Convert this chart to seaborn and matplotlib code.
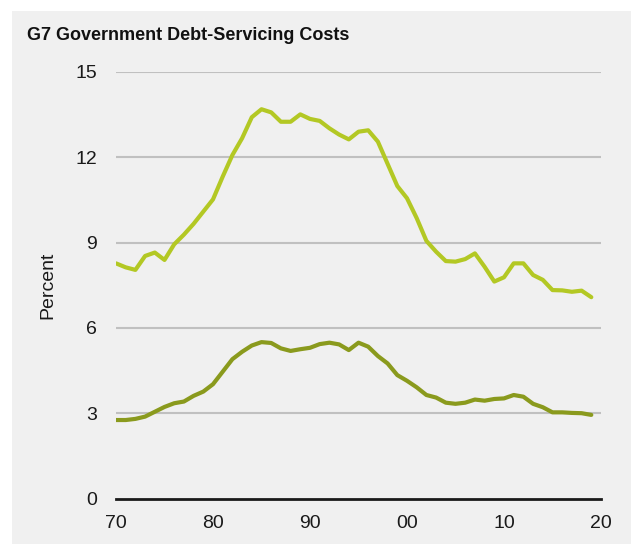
import numpy as np
import pandas as pd
import matplotlib
matplotlib.use("Agg")
import matplotlib.pyplot as plt
from matplotlib.patches import Rectangle
import seaborn as sns

# Annual data, 1970-2019
years = list(range(1970, 2020))

# Upper series (light green)
upper = [8.27, 8.13, 8.04, 8.53, 8.65, 8.39, 8.94, 9.28, 9.66, 10.09,
         10.52, 11.32, 12.08, 12.67, 13.41, 13.69, 13.58, 13.25, 13.25, 13.51,
         13.35, 13.28, 13.02, 12.80, 12.63, 12.90, 12.95, 12.55, 11.77, 10.99,
         10.56, 9.86, 9.06, 8.68, 8.35, 8.33, 8.42, 8.62, 8.15, 7.63,
         7.78, 8.27, 8.27, 7.86, 7.69, 7.33, 7.32, 7.27, 7.31, 7.08]

# Lower series (olive)
lower = [2.76, 2.76, 2.80, 2.88, 3.05, 3.22, 3.35, 3.41, 3.61, 3.76,
         4.02, 4.46, 4.90, 5.16, 5.38, 5.50, 5.47, 5.28, 5.19, 5.25,
         5.30, 5.43, 5.48, 5.42, 5.22, 5.48, 5.34, 5.01, 4.75, 4.34,
         4.14, 3.91, 3.64, 3.55, 3.37, 3.33, 3.37, 3.48, 3.44, 3.50,
         3.52, 3.64, 3.58, 3.33, 3.21, 3.03, 3.03, 3.01, 3.00, 2.94]

y_ticks = [0, 3, 6, 9, 12, 15]
x_ticks = [1970, 1980, 1990, 2000, 2010, 2020]
x_labels = ["70", "80", "90", "00", "10", "20"]

df = pd.DataFrame({
    "year": years * 2,
    "value": upper + lower,
    "series": ["upper"] * len(years) + ["lower"] * len(years),
})

sns.set_theme(style="white")
plt.rcParams["font.family"] = ["Liberation Sans", "DejaVu Sans"]

bg = "#f0f0f0"
fig = plt.figure(figsize=(6.31, 5.44), dpi=100)
fig.patch.set_facecolor("white")
fig.patches.append(Rectangle((12 / 631, 0), 1, (544 - 11) / 544,
                             transform=fig.transFigure, facecolor=bg,
                             edgecolor="none", zorder=-10))

ax = fig.add_axes([116 / 631, (544 - 498.5) / 544, 485 / 631, 426.5 / 544])
ax.set_zorder(1)
ax.patch.set_alpha(0)

for y in y_ticks[1:]:
    ax.axhline(y, color="#c0c0c0", lw=1.5, zorder=1)

sns.lineplot(data=df, x="year", y="value", hue="series",
             palette={"upper": "#b3c824", "lower": "#8a9a1d"},
             linewidth=3.0, legend=False, ax=ax, zorder=3)

ax.set_xlim(1970, 2020)
ax.set_ylim(0, 15)
ax.set_yticks(y_ticks)
ax.set_xticks(x_ticks)
ax.set_xticklabels(x_labels)
ax.tick_params(axis="both", length=0, labelsize=14, colors="#1a1a1a")
ax.tick_params(axis="y", pad=13.5)
ax.tick_params(axis="x", pad=12)
ax.set_xlabel("")
ax.set_ylabel("Percent", fontsize=14, labelpad=14, color="#1a1a1a")

for side in ["top", "right", "left"]:
    ax.spines[side].set_visible(False)
ax.spines["bottom"].set_color("#1a1a1a")
ax.spines["bottom"].set_linewidth(2)
ax.spines["bottom"].set_zorder(4)

fig.text(27 / 631, 1 - 35 / 544, "G7 Government Debt-Servicing Costs",
         fontsize=13, fontweight="bold", va="center", ha="left",
         color="#111111")

fig.savefig("out.png", dpi=100, facecolor=fig.get_facecolor())
